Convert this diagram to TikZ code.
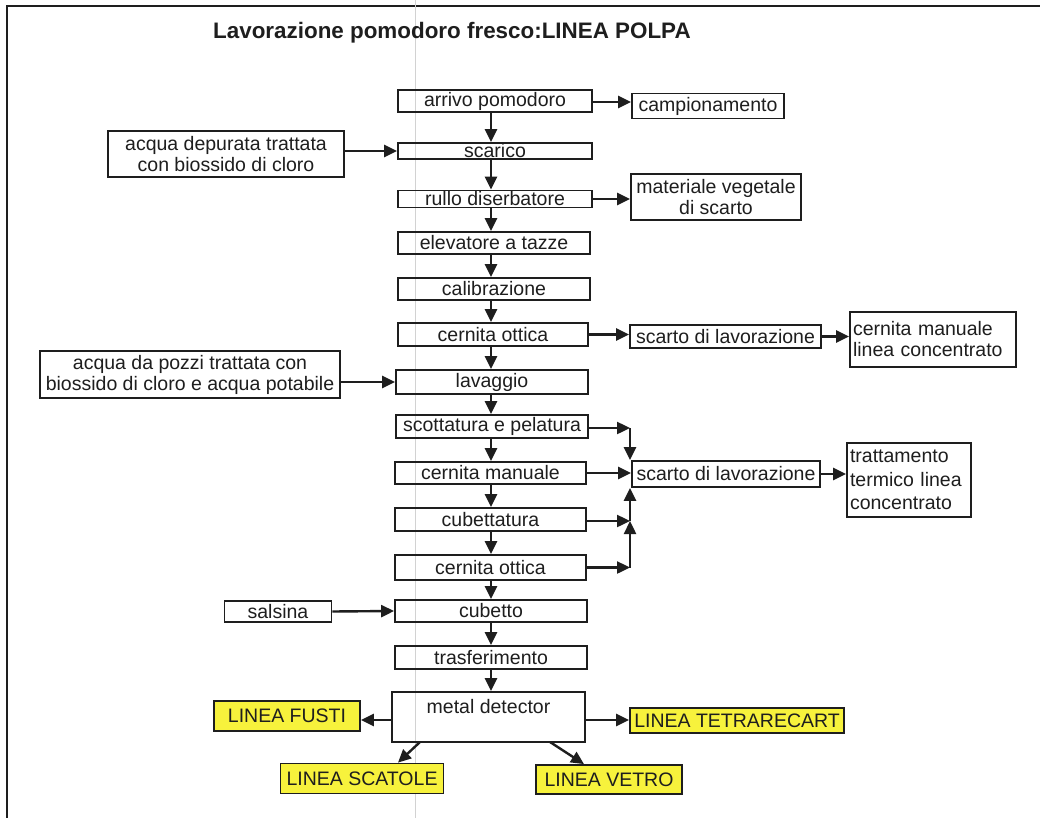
\documentclass[tikz,border=0pt]{standalone}
\usepackage{fontspec}
\setmainfont{Liberation Sans}
\usetikzlibrary{arrows.meta,calc}
\definecolor{ink}{HTML}{1E1E1E}
\definecolor{hilite}{HTML}{F7F23C}
\begin{document}
\begin{tikzpicture}[x=1pt,y=-1pt,
  every node/.style={font=\fontsize{19.5}{21}\selectfont, text=ink},
  box/.style={draw=ink, line width=1.8pt, inner sep=0pt, align=center},
  ybox/.style={box, fill=hilite},
  arr/.style={draw=ink, line width=2.4pt, -{Triangle[length=13pt,width=12pt]}},
  bx/.style 2 args={minimum width=#1, minimum height=#2}
]
\useasboundingbox (0,0) rectangle (1040,818);
\fill[white] (0,0) rectangle (1040,818);
% frame and scan line
\draw[ink, line width=2pt] (7,818) -- (7,6) -- (1040,6);
\draw[gray!35, line width=1pt] (415,0) -- (415,818);
% title
\node[font=\fontsize{22.4}{26}\selectfont\bfseries, anchor=base west, inner sep=0pt] (title) at (213,39) {Lavorazione pomodoro fresco:LINEA POLPA};
% main column
\node[box, bx={194}{22}] (arrivo) at (495,101) {arrivo pomodoro};
\node[box, bx={194}{16}] (scarico) at (495,151) {scarico};
\node[box, bx={194}{17}] (rullo) at (495,199) {rullo diserbatore};
\node[box, bx={192}{22}] (elev) at (494,243) {elevatore a tazze};
\node[box, bx={192}{22}] (calib) at (494,289) {calibrazione};
\node[box, bx={190}{23}] (cern1) at (493,334.5) {cernita ottica};
\node[box, bx={192}{24}] (lav) at (492,382) {lavaggio};
\node[box, bx={192}{23}] (scott) at (492,426.5) {scottatura e pelatura};
\node[box, bx={191}{22}] (cman) at (490.5,473) {cernita manuale};
\node[box, bx={191}{23}] (cubt) at (490.5,519.5) {cubettatura};
\node[box, bx={191}{25}] (cern2) at (490.5,567.5) {cernita ottica};
\node[box, bx={192}{22}] (cubetto) at (491,611) {cubetto};
\node[box, bx={192}{23}] (trasf) at (491,657.5) {trasferimento};
\node[box, bx={193}{50}] (metal) at (488.5,717) {};
\node[anchor=base] (metaltxt) at ($(metal.north)+(0,22)$) {metal detector};
% side boxes
\node[box, bx={152}{25}] (camp) at (708,106) {campionamento};
\node[box, bx={236}{46}] (acq1) at (226,154) {acqua depurata trattata\\con biossido di cloro};
\node[box, bx={170}{46}] (mat) at (716,197) {materiale vegetale\\di scarto};
\node[box, bx={191}{23}] (sc1) at (725.5,336.5) {scarto di lavorazione};
\node[box, bx={166}{55}, align=left, text width=160pt, inner xsep=3pt] (cml) at (933,339.5) {cernita manuale\\linea concentrato};
\node[box, bx={300}{47}] (acq2) at (190,374.5) {acqua da pozzi trattata con\\biossido di cloro e acqua potabile};
\node[box, bx={188}{26}] (sc2) at (726,474) {scarto di lavorazione};
\node[box, bx={124}{74}, align=left, text width=118pt, inner xsep=3pt, font=\fontsize{19.5}{23.5}\selectfont] (tratt) at (909,480) {trattamento\\termico linea\\concentrato};
\node[box, bx={107}{21}] (sals) at (278,611.5) {salsina};
\node[ybox, bx={146}{30}] (fusti) at (287,716) {LINEA FUSTI};
\node[ybox, bx={214}{25}] (tetra) at (737,720.5) {LINEA TETRARECART};
\node[ybox, bx={163}{30}] (scat) at (362,778.5) {LINEA SCATOLE};
\node[ybox, bx={146}{29}] (vetro) at (609,779.5) {LINEA VETRO};
% main flow along one vertical axis
\coordinate (ax) at (491,0);
\draw[arr] (arrivo.south -| ax) -- (scarico.north -| ax);
\draw[arr] (scarico.south -| ax) -- (rullo.north -| ax);
\draw[arr] (rullo.south -| ax) -- (elev.north -| ax);
\draw[arr] (elev.south -| ax) -- (calib.north -| ax);
\draw[arr] (calib.south -| ax) -- (cern1.north -| ax);
\draw[arr] (cern1.south -| ax) -- (lav.north -| ax);
\draw[arr] (lav.south -| ax) -- (scott.north -| ax);
\draw[arr] (scott.south -| ax) -- (cman.north -| ax);
\draw[arr] (cman.south -| ax) -- (cubt.north -| ax);
\draw[arr] (cubt.south -| ax) -- (cern2.north -| ax);
\draw[arr] (cern2.south -| ax) -- (cubetto.north -| ax);
\draw[arr] (cubetto.south -| ax) -- (trasf.north -| ax);
\draw[arr] (trasf.south -| ax) -- (metal.north -| ax);
% side flows
\coordinate (y1) at (0,102);
\draw[arr] (arrivo.east |- y1) -- (camp.west |- y1);
\draw[arr] (scarico.west -| acq1.east) -- (scarico.west);
\draw[arr] (rullo.east) -- (rullo.east -| mat.west);
\draw[arr] (cern1.east) -- (cern1.east -| sc1.west);
\draw[arr] (sc1.east) -- (sc1.east -| cml.west);
\draw[arr] (lav.west -| acq2.east) -- (lav.west);
\coordinate (j1) at (630,428);
\coordinate (j3) at (630,521);
\coordinate (j4) at (630,567.5);
\draw[arr] (scott.east |- j1) -- (j1);
\draw[arr] (j1) -- (j1 |- sc2.north);
\draw[arr] (cman.east) -- (cman.east -| sc2.west);
\draw[arr] (cubt.east |- j3) -- (j3);
\draw[arr] (cern2.east) -- (j4);
\draw[arr] (j4) -- (j3);
\draw[arr] (j3) -- (j3 |- sc2.south);
\draw[arr] (sc2.east) -- (sc2.east -| tratt.west);
\draw[arr] (sals.east) -- (cubetto.west);
\coordinate (y2) at (0,720);
\draw[arr] (metal.west |- y2) -- (fusti.east |- y2);
\draw[arr] (metal.east |- y2) -- (tetra.west |- y2);
\coordinate (m1) at (420,742);
\coordinate (m2) at (550,742);
\coordinate (t1) at (398,0);
\coordinate (t2) at (584,0);
\draw[arr] (m1) -- (scat.north -| t1);
\draw[arr] (m2) -- (vetro.north -| t2);
\end{tikzpicture}
\end{document}
